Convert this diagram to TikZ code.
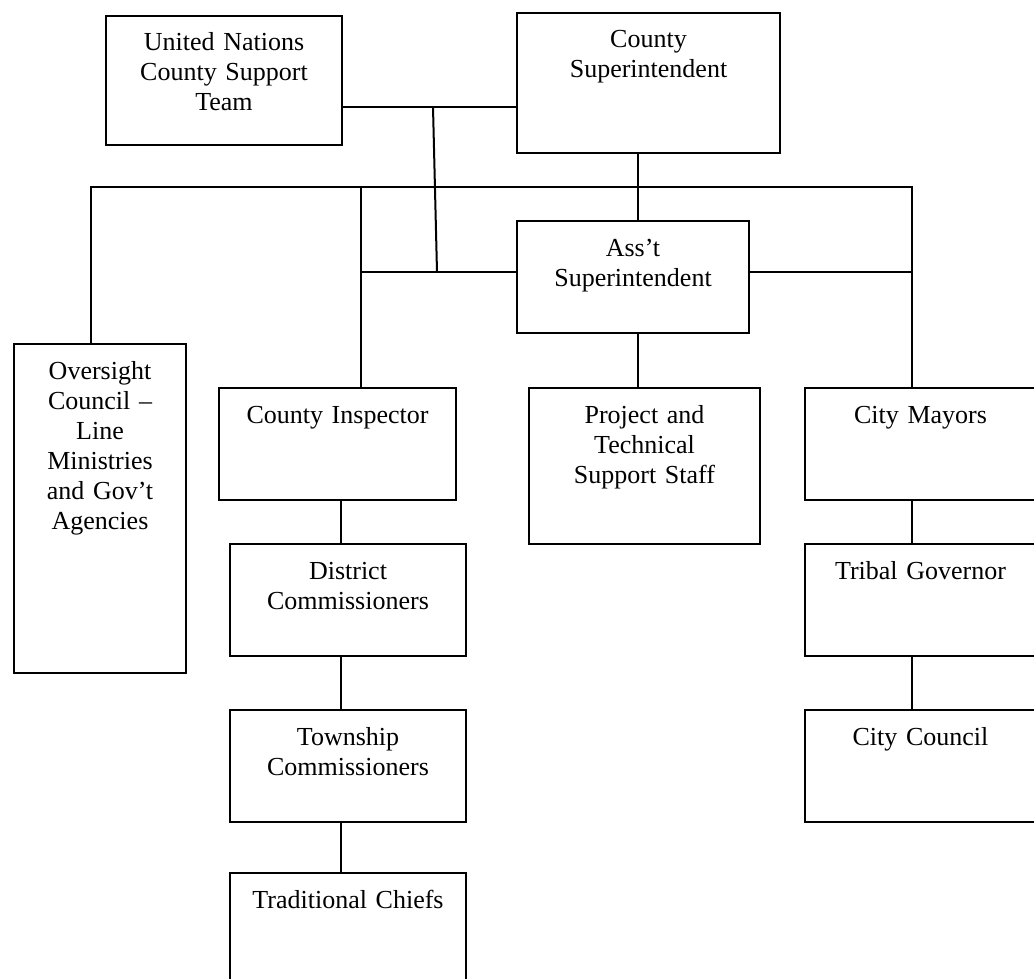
\documentclass[tikz,border=0pt]{standalone}
\usepackage{fontspec}
\setmainfont{Liberation Serif}
\tikzset{
	boxstyle/.style={rectangle,draw=black,line width=2pt,anchor=north west,inner sep=0pt},
	textstyle/.style={anchor=base,align=center,inner sep=0pt,yshift=-36pt,font=\fontsize{26}{30}\selectfont},
	linestyle/.style={draw=black,line width=2pt}
}
\begin{document}
\begin{tikzpicture}[x=1pt,y=-1pt]
		\clip (0,0) rectangle (1034,979);
		\node[boxstyle,minimum width=236pt,minimum height=129pt,label={[textstyle,text width=226pt]north:{United Nations\\County Support\\Team}}] (un) at (105,15) {};
		\node[boxstyle,minimum width=263pt,minimum height=140pt,label={[textstyle,text width=253pt]north:{County\\Superintendent}}] (cs) at (516,12) {};
		\node[boxstyle,minimum width=232pt,minimum height=112pt,label={[textstyle,text width=222pt]north:{Ass't\\Superintendent}}] (ass) at (516,220) {};
		\node[boxstyle,minimum width=172pt,minimum height=329pt,label={[textstyle,text width=162pt]north:{Oversight\\Council --\\Line\\Ministries\\and Gov't\\Agencies}}] (ov) at (13,343) {};
		\node[boxstyle,minimum width=237pt,minimum height=112pt,label={[textstyle,text width=227pt]north:{County Inspector}}] (ci) at (218,387) {};
		\node[boxstyle,minimum width=236pt,minimum height=112pt,label={[textstyle,text width=226pt]north:{District\\Commissioners}}] (dc) at (229,543) {};
		\node[boxstyle,minimum width=236pt,minimum height=112pt,label={[textstyle,text width=226pt]north:{Township\\Commissioners}}] (tw) at (229,709) {};
		\node[boxstyle,minimum width=236pt,minimum height=130pt,label={[textstyle,text width=226pt]north:{Traditional Chiefs}}] (tc) at (229,872) {};
		\node[boxstyle,minimum width=231pt,minimum height=156pt,label={[textstyle,text width=221pt]north:{Project and\\Technical\\Support Staff}}] (ps) at (528,387) {};
		\node[boxstyle,minimum width=231pt,minimum height=112pt,label={[textstyle,text width=221pt]north:{City Mayors}}] (cm) at (804,387) {};
		\node[boxstyle,minimum width=231pt,minimum height=112pt,label={[textstyle,text width=221pt]north:{Tribal Governor}}] (tg) at (804,543) {};
		\node[boxstyle,minimum width=231pt,minimum height=112pt,label={[textstyle,text width=221pt]north:{City Council}}] (cc) at (804,709) {};
		% junctions
		\coordinate (j1) at (433,107);
		\coordinate (j2) at (437,272);
		\coordinate (bl) at (91,187);
		\coordinate (bm) at (361,187);
		\coordinate (bc) at (638,187);
		\coordinate (br) at (912,187);
		\coordinate (cl) at (341,0);
		\draw[linestyle] (un.east |- j1)--(cs.west |- j1);
		\draw[linestyle] (j1)--(j2);
		\draw[linestyle] (cs.south -| bc)--(ass.north -| bc);
		\draw[linestyle] (ov.north -| bl)--(bl)--(br)--(cm.north -| br);
		\draw[linestyle] (bm)--(ci.north -| bm);
		\draw[linestyle] (bm |- j2)--(ass.west |- j2);
		\draw[linestyle] (ass.east |- j2)--(br |- j2);
		\draw[linestyle] (ass.south -| bc)--(ps.north -| bc);
		\draw[linestyle] (ci.south -| cl)--(dc.north -| cl);
		\draw[linestyle] (dc.south -| cl)--(tw.north -| cl);
		\draw[linestyle] (tw.south -| cl)--(tc.north -| cl);
		\draw[linestyle] (cm.south -| br)--(tg.north -| br);
		\draw[linestyle] (tg.south -| br)--(cc.north -| br);
\end{tikzpicture}
\end{document}
